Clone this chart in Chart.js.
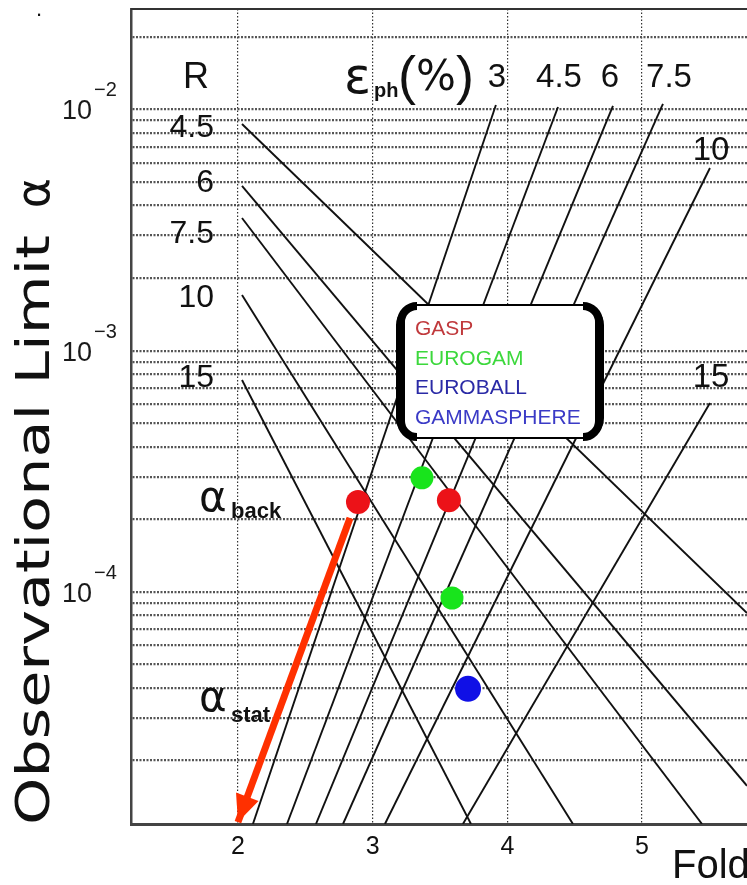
<!DOCTYPE html>
<html>
<head>
<meta charset="utf-8">
<script src="https://cdn.jsdelivr.net/npm/chart.js@4.4.0/dist/chart.umd.min.js"></script>
<style>
  html, body { margin: 0; padding: 0; background: #fff; }
  #wrap { width: 747px; height: 885px; }
</style>
</head>
<body>
<div id="wrap"><canvas id="chart" width="747" height="885"></canvas></div>
<script>
// axis range and ticks
const X_MIN = 1.206, X_MAX = 5.779;
const Y_MIN = 1.09e-5, Y_MAX = 0.0261;
const foldTicks = [2, 3, 4, 5];
const alphaLabelExponents = [-2, -3, -4];

// background limit lines, one per resolving power R
const resolvingPower = ["4.5", "6", "7.5", "10", "15"];
const rStartFold = [2.03, 2.03, 2.03, 2.03, 2.03];
const rStartAlpha = [8.71e-3, 4.82e-3, 3.55e-3, 1.70e-3, 7.56e-4];
const rEndFold = [5.779, 5.779, 5.445, 4.487, 3.73];
const rEndAlpha = [8.17e-5, 1.57e-5, 1.09e-5, 1.09e-5, 1.09e-5];

// statistical limit lines, one per photopeak efficiency (%)
const efficiency = ["3", "4.5", "6", "7.5", "10", "15"];
const effStartFold = [2.111, 2.364, 2.579, 2.780, 3.091, 3.670];
const effStartAlpha = [1.09e-5, 1.09e-5, 1.09e-5, 1.09e-5, 1.09e-5, 1.09e-5];
const effEndFold = [3.915, 4.376, 4.784, 5.155, 5.504, 5.504];
const effEndAlpha = [1.044e-2, 1.024e-2, 1.034e-2, 1.054e-2, 5.72e-3, 6.07e-4];

// arrays
const detectors = ["GASP", "EUROGAM", "EUROBALL", "GAMMASPHERE"];
const detectorFold = [[2.891, 3.566], [3.366, 3.589], [], [3.708]];
const detectorAlpha = [[2.36e-4, 2.40e-4], [2.97e-4, 9.43e-5], [], [3.96e-5]];

// red arrow from the GASP point down to the fold axis
const arrowFold = [2.832, 2.0];
const arrowAlpha = [2.025e-4, 1.11e-5];

const DOT_COLORS = ["#ec1218", "#18e41c", "#1010e6", "#1010e6"];
const DOT_RADIUS = [12, 11.5, 13, 13];
const TEXT_COLORS = ["#c0393c", "#3cd83c", "#2a2aa6", "#3a3ac6"];
const ARROW_COLOR = "#ff3000";
const SANS = '"Liberation Sans", Arial, sans-serif';
const DEJAVU = '"DejaVu Sans", sans-serif';

Chart.defaults.font.family = SANS;

const yGridValues = [];
for (let e = -5; e <= -2; e++) {
  for (let m = 1; m <= 9; m++) {
    const v = m * Math.pow(10, e);
    if (v > Y_MIN && v < Y_MAX) yGridValues.push(v);
  }
}

const lineStyle = { showLine: true, pointRadius: 0, borderColor: "#111", borderWidth: 1.9, order: 3 };

const rDatasets = resolvingPower.map((r, i) => ({
  label: "R = " + r,
  data: [{ x: rStartFold[i], y: rStartAlpha[i] }, { x: rEndFold[i], y: rEndAlpha[i] }],
  ...lineStyle
}));

const effDatasets = efficiency.map((e, i) => ({
  label: "eph = " + e + "%",
  data: [{ x: effStartFold[i], y: effStartAlpha[i] }, { x: effEndFold[i], y: effEndAlpha[i] }],
  ...lineStyle
}));

const dotDatasets = detectors.map((name, i) => ({
  label: name,
  data: detectorFold[i].map((f, j) => ({ x: f, y: detectorAlpha[i][j] })),
  backgroundColor: DOT_COLORS[i],
  borderWidth: 0,
  pointRadius: DOT_RADIUS[i],
  showLine: false,
  order: 0
}));

const arrowDataset = {
  label: "arrow",
  data: arrowFold.map((f, i) => ({ x: f, y: arrowAlpha[i] })),
  showLine: true,
  pointRadius: 0,
  borderColor: ARROW_COLOR,
  borderWidth: 7,
  order: 1
};

function text(ctx, str, x, y, font, color, align) {
  ctx.font = font;
  ctx.fillStyle = color || "#111";
  ctx.textAlign = align || "left";
  ctx.textBaseline = "alphabetic";
  ctx.fillText(str, x, y);
}

const overlay = {
  id: "overlay",
  afterDatasetsDraw(chart) {
    const { ctx, chartArea: area, scales } = chart;
    const xs = scales.x, ys = scales.y;
    ctx.save();

    // top frame line
    ctx.strokeStyle = "#333";
    ctx.lineWidth = 2;
    ctx.beginPath();
    ctx.moveTo(area.left, area.top);
    ctx.lineTo(area.right, area.top);
    ctx.stroke();

    // arrow head
    const fx = xs.getPixelForValue(arrowFold[0]), fy = ys.getPixelForValue(arrowAlpha[0]);
    const tx = xs.getPixelForValue(arrowFold[1]), ty = ys.getPixelForValue(arrowAlpha[1]);
    const ang = Math.atan2(ty - fy, tx - fx);
    const len = 27, half = 12;
    const bx0 = tx - len * Math.cos(ang), by0 = ty - len * Math.sin(ang);
    ctx.fillStyle = ARROW_COLOR;
    ctx.beginPath();
    ctx.moveTo(tx, ty);
    ctx.lineTo(bx0 + half * Math.sin(ang), by0 - half * Math.cos(ang));
    ctx.lineTo(bx0 - half * Math.sin(ang), by0 + half * Math.cos(ang));
    ctx.closePath();
    ctx.fill();

    // legend box
    const bx = 397, by = 305, bw = 206, bh = 133, r = 20;
    ctx.beginPath();
    ctx.moveTo(bx + r, by);
    ctx.arcTo(bx + bw, by, bx + bw, by + bh, r);
    ctx.arcTo(bx + bw, by + bh, bx, by + bh, r);
    ctx.arcTo(bx, by + bh, bx, by, r);
    ctx.arcTo(bx, by, bx + bw, by, r);
    ctx.closePath();
    ctx.fillStyle = "#fff";
    ctx.fill();
    ctx.strokeStyle = "#000";
    ctx.lineWidth = 2;
    ctx.stroke();
    ctx.lineWidth = 8;
    const ins = 4;
    ctx.beginPath();
    ctx.moveTo(bx + r, by + 1);
    ctx.arcTo(bx + ins, by + 1, bx + ins, by + r, r - ins);
    ctx.lineTo(bx + ins, by + bh - r);
    ctx.arcTo(bx + ins, by + bh - 1, bx + r, by + bh - 1, r - ins);
    ctx.moveTo(bx + bw - r, by + 1);
    ctx.arcTo(bx + bw - ins, by + 1, bx + bw - ins, by + r, r - ins);
    ctx.lineTo(bx + bw - ins, by + bh - r);
    ctx.arcTo(bx + bw - ins, by + bh - 1, bx + bw - r, by + bh - 1, r - ins);
    ctx.stroke();
    detectors.forEach((name, i) => {
      text(ctx, name, 415, 335 + i * 29.7, "21px " + SANS, TEXT_COLORS[i]);
    });

    // y tick labels 10^-n
    alphaLabelExponents.forEach(e => {
      const py = ys.getPixelForValue(Math.pow(10, e));
      text(ctx, "10", 92, py + 10, "27px " + SANS, "#1a1a1a", "right");
      text(ctx, "\u2212" + Math.abs(e), 94, py - 13, "20px " + SANS, "#1a1a1a");
    });

    // R labels
    text(ctx, "R", 196, 88, "36px " + SANS, "#111", "center");
    const rLabelY = [137, 192, 243, 307, 387];
    resolvingPower.forEach((r, i) => {
      text(ctx, r, 214, rLabelY[i], "32px " + SANS, "#111", "right");
    });

    // efficiency labels
    text(ctx, "\u03b5", 344, 93, "50px " + DEJAVU, "#111");
    text(ctx, "ph", 374, 97, "bold 20px " + SANS, "#111");
    text(ctx, "(", 398, 94, "54px " + SANS, "#111");
    text(ctx, "%", 416, 90, "42px " + DEJAVU, "#111");
    text(ctx, ")", 456, 94, "54px " + SANS, "#111");
    const effLabelPos = [[497, 87], [559, 87], [610, 87], [669, 87], [711, 160], [711, 387]];
    efficiency.forEach((e, i) => {
      text(ctx, e, effLabelPos[i][0], effLabelPos[i][1], "33px " + SANS, "#111", "center");
    });

    // alpha labels
    text(ctx, "\u03b1", 199, 511, "42px " + DEJAVU, "#111");
    text(ctx, "back", 231, 518, "bold 22px " + SANS, "#111");
    text(ctx, "\u03b1", 199, 711, "42px " + DEJAVU, "#111");
    text(ctx, "stat", 231, 722, "bold 22px " + SANS, "#111");

    // axis titles
    text(ctx, "Fold", 672, 878, "40px " + SANS, "#111");
    ctx.save();
    ctx.translate(49, 530);
    ctx.rotate(-Math.PI / 2);
    ctx.font = "46px " + DEJAVU;
    const title = "Observational Limit";
    const w = ctx.measureText(title).width;
    ctx.scale(590 / w, 1);
    ctx.fillStyle = "#111";
    ctx.textAlign = "center";
    ctx.fillText(title, 0, 0);
    ctx.restore();
    ctx.save();
    ctx.translate(49, 193);
    ctx.rotate(-Math.PI / 2);
    text(ctx, "\u03b1", 0, 0, "46px " + DEJAVU, "#111", "center");
    ctx.restore();

    text(ctx, ".", 36, 16, "22px " + SANS, "#111");
    ctx.restore();
  }
};

new Chart(document.getElementById("chart"), {
  type: "scatter",
  data: { datasets: [...dotDatasets, arrowDataset, ...rDatasets, ...effDatasets] },
  options: {
    responsive: false,
    animation: false,
    layout: { autoPadding: false, padding: { top: 9, left: 0, right: 0, bottom: 0 } },
    plugins: { legend: { display: false }, tooltip: { enabled: false } },
    scales: {
      x: {
        type: "linear",
        min: X_MIN,
        max: X_MAX,
        afterBuildTicks: s => { s.ticks = foldTicks.map(v => ({ value: v })); },
        afterFit: s => { s.height = 61; },
        grid: { color: "#333", lineWidth: 1.2, drawTicks: false },
        border: { display: true, color: "#444", width: 3, dash: [1.5, 2] },
        ticks: { color: "#111", font: { size: 25 }, padding: 8, maxRotation: 0 }
      },
      y: {
        type: "logarithmic",
        min: Y_MIN,
        max: Y_MAX,
        afterBuildTicks: s => { s.ticks = yGridValues.map(v => ({ value: v })); },
        afterFit: s => { s.width = 131; },
        grid: { color: "#555", lineWidth: 2.2, drawTicks: false },
        border: { display: true, color: "#444", width: 2.5, dash: [2, 1.5] },
        ticks: { display: false }
      }
    }
  },
  plugins: [overlay]
});
</script>
</body>
</html>
